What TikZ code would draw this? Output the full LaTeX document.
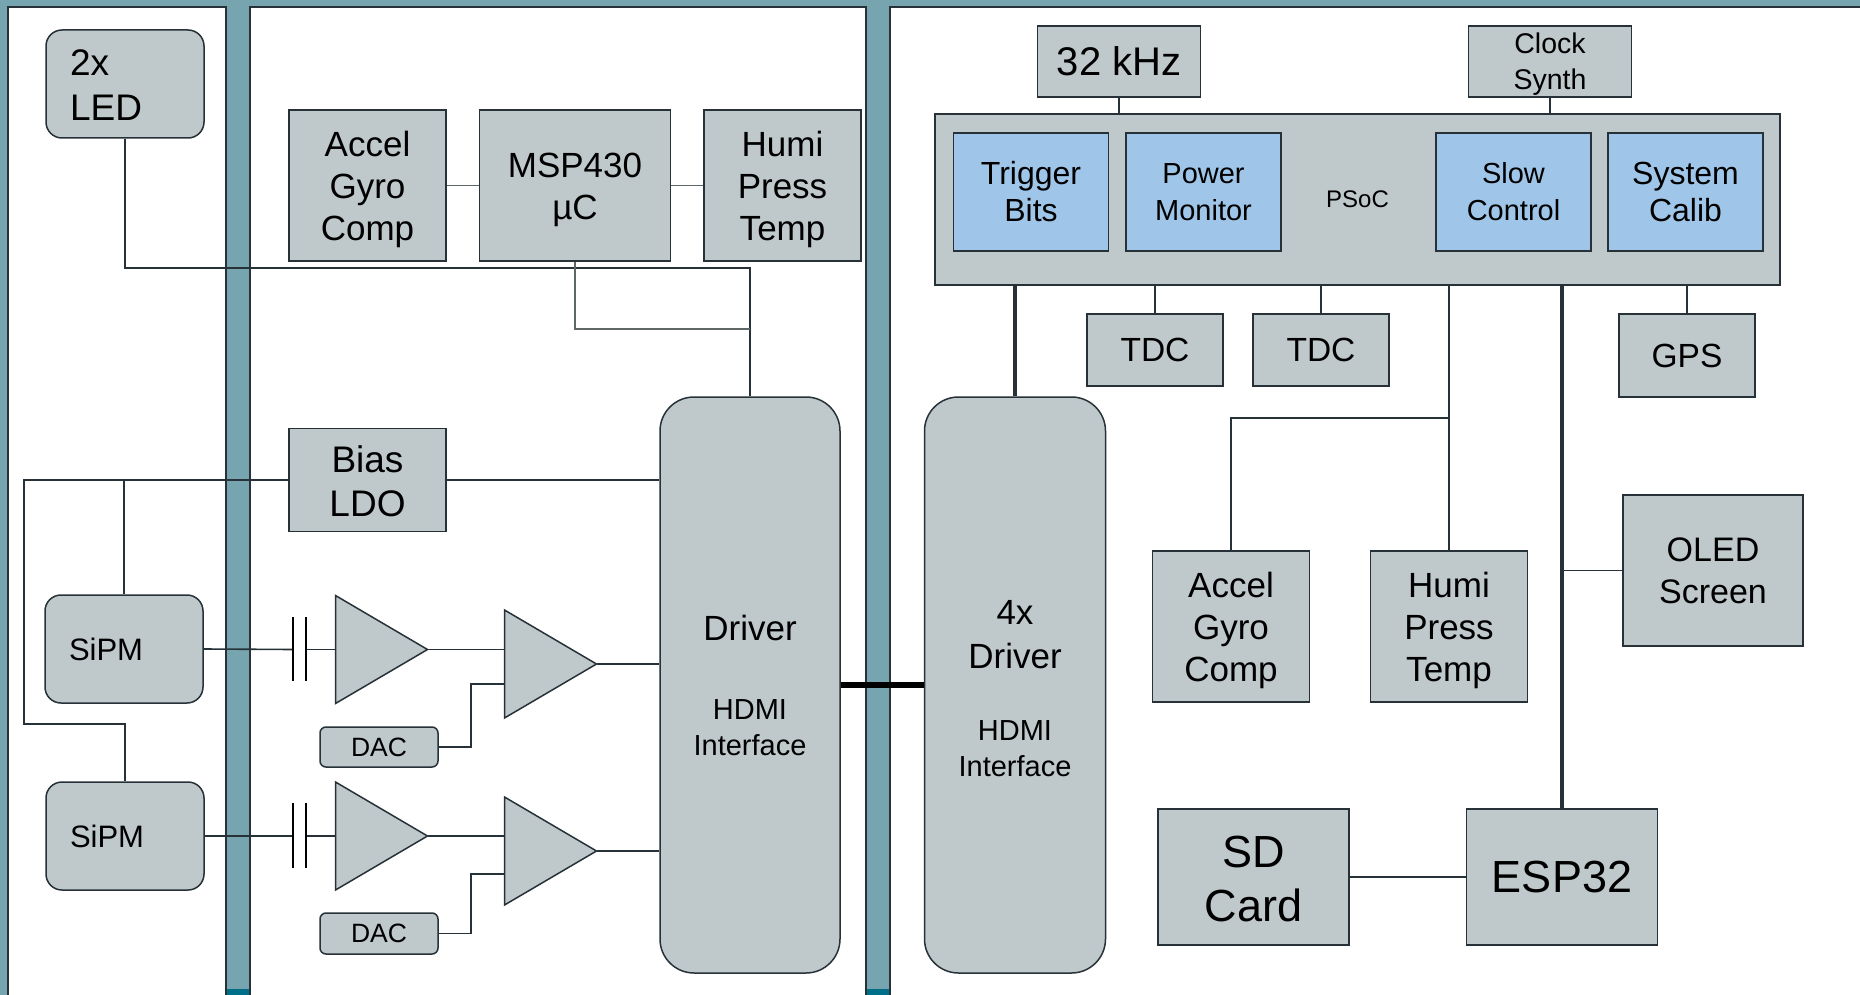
\documentclass[tikz,border=0pt]{standalone}
\usepackage{fontspec}
\setmainfont{Liberation Sans}
\usetikzlibrary{shapes.geometric}

\definecolor{panelteal}{HTML}{76A5AF}
\definecolor{stripteal}{HTML}{00708A}
\definecolor{edgedark}{HTML}{263238}
\definecolor{boxgray}{HTML}{BFC8CB}
\definecolor{boxblue}{HTML}{9FC5E8}
\definecolor{wiregray}{HTML}{5F6666}

\newcommand{\sz}[2]{\fontsize{#1}{#2}\selectfont}
\newcommand{\dn}[1]{\rule{0pt}{#1pt}}

\tikzset{
    block/.style = {draw = edgedark, fill = boxgray, line width = 1.5pt, align = center,
        inner sep = 0pt, text = black},
    roundblock/.style = {block, rounded corners = 16pt},
    sideblock/.style = {roundblock, align = left, inner xsep = 24pt, text width = 110pt},
    interblock/.style = {block, rounded corners = 34pt, font = \sz{29}{36}},
    bluebox/.style = {block, fill = boxblue},
    amp/.style = {draw = edgedark, fill = boxgray, line width = 1.5pt, isosceles triangle,
        isosceles triangle apex angle = 61, isosceles triangle stretches,
        minimum width = 108pt, minimum height = 92pt, inner sep = 0pt, outer sep = 0pt, anchor = apex},
    wire/.style = {draw = edgedark, line width = 1.6pt},
    softwire/.style = {draw = wiregray, line width = 1.5pt},
    plate/.style = {draw = black, line width = 1.4pt},
    bus/.style = {draw = edgedark, line width = 3.8pt},
    panel/.style = {draw = edgedark, fill = white, line width = 1.5pt}
}

\begin{document}
\begin{tikzpicture}[%
        x = 1pt,
        y = -1pt
    ]

        \useasboundingbox (0, 0) rectangle (1860, 995);

        % Backdrop and the three white panels.
        \fill[panelteal] (0, 0) rectangle (1860, 995);
        \fill[stripteal] (226, 989) rectangle (250, 995);
        \fill[stripteal] (866, 989) rectangle (890, 995);
        \draw[panel] (8, 7) rectangle (226, 1010);
        \draw[panel] (250, 7) rectangle (866, 1010);
        \draw[panel] (890, 7) rectangle (1880, 1010);

        % Left panel.
        \node[sideblock, minimum width = 158, minimum height = 108, font = \sz{37}{45}] (led) at (125, 84) {\dn{29}2x\\LED};
        \node[sideblock, minimum width = 158, minimum height = 108, font = \sz{31}{37}] (sipmA) at (124, 649) {SiPM};
        \node[sideblock, minimum width = 158, minimum height = 108, font = \sz{31}{37}] (sipmB) at (125, 836) {SiPM};

        % Middle panel.
        \node[block, minimum width = 157, minimum height = 151, font = \sz{35}{42}] (accelL) at (367.5, 185.5) {\dn{33}Accel\\Gyro\\Comp};
        \node[block, minimum width = 191, minimum height = 151, font = \sz{35}{42}] (msp) at (575, 185.5) {\dn{34}MSP430\\µC};
        \node[block, minimum width = 157, minimum height = 151, font = \sz{35}{42}] (humiL) at (782.5, 185.5) {\dn{33}Humi\\Press\\Temp};
        \node[block, minimum width = 157, minimum height = 103, font = \sz{37}{44}] (bias) at (367.5, 480) {\dn{29}Bias\\LDO};
        \node[interblock, minimum width = 180, minimum height = 576] (driver) at (750, 685)
            {{\sz{35}{42}Driver}\\[43pt]HDMI\\Interface};

        % Amplifier chains.
        \node[amp] (ampA) at (427.5, 649.5) {};
        \node[amp] (ampB) at (596.5, 664) {};
        \node[amp] (ampC) at (427.5, 836) {};
        \node[amp] (ampD) at (596.5, 851) {};
        \node[block, rounded corners = 6pt, minimum width = 118, minimum height = 40, font = \sz{26.5}{32}] (dacA) at (379, 747) {DAC};
        \node[block, rounded corners = 6pt, minimum width = 118, minimum height = 41, font = \sz{26.5}{32}] (dacB) at (379, 933.5) {DAC};

        % Right panel.
        \node[block, minimum width = 163, minimum height = 71, font = \sz{40}{48}] (khz) at (1119, 61.5) {32 kHz};
        \node[block, minimum width = 163, minimum height = 71, font = \sz{28.5}{36}] (clock) at (1550, 61.5) {\dn{25}Clock\\Synth};
        \node[block, minimum width = 845, minimum height = 171, font = \sz{24}{28}] (psoc) at (1357.5, 199.5) {PSoC};
        \node[bluebox, minimum width = 155, minimum height = 118, font = \sz{32}{37}] (trigger) at (1031, 192) {Trigger\\Bits};
        \node[bluebox, minimum width = 155, minimum height = 118, font = \sz{29}{37}] (power) at (1203.5, 192) {Power\\Monitor};
        \node[bluebox, minimum width = 155, minimum height = 118, font = \sz{29}{37}] (slow) at (1513.5, 192) {Slow\\Control};
        \node[bluebox, minimum width = 155, minimum height = 118, font = \sz{32}{37}] (calib) at (1685.5, 192) {System\\Calib};
        \node[block, minimum width = 136, minimum height = 72, font = \sz{33.5}{40}] (tdcA) at (1155, 350) {TDC};
        \node[block, minimum width = 136, minimum height = 72, font = \sz{33.5}{40}] (tdcB) at (1321, 350) {TDC};
        \node[block, minimum width = 136, minimum height = 83, font = \sz{33.5}{40}] (gps) at (1687, 355.5) {GPS};
        \node[block, minimum width = 180, minimum height = 151, font = \sz{34}{42}] (oled) at (1713, 570.5) {OLED\\Screen};
        \node[block, minimum width = 157, minimum height = 151, font = \sz{35}{42}] (accelR) at (1231, 626.5) {\dn{33}Accel\\Gyro\\Comp};
        \node[block, minimum width = 157, minimum height = 151, font = \sz{35}{42}] (humiR) at (1449, 626.5) {\dn{33}Humi\\Press\\Temp};
        \node[block, minimum width = 191, minimum height = 136, font = \sz{45}{54}] (sd) at (1253.5, 877) {\dn{35}SD\\Card};
        \node[block, minimum width = 191, minimum height = 136, font = \sz{45}{54}] (esp) at (1562, 877) {ESP32};
        \node[interblock, minimum width = 181, minimum height = 576] (driverB) at (1015, 685)
            {{\sz{35}{42}\dn{32}4x}\\[8pt]{\sz{35}{42}Driver}\\[36pt]HDMI\\Interface};

        % Bend points of the wires.
        \coordinate (ledTap) at (750, 268);
        \coordinate (mspTap) at (750, 329);
        \coordinate (busTop) at (24, 480);
        \coordinate (busBot) at (24, 724);
        \coordinate (capA) at (293, 649.5);
        \coordinate (capB) at (306, 649.5);
        \coordinate (capC) at (293, 836);
        \coordinate (capD) at (306, 836);
        \coordinate (inA) at (505, 684);
        \coordinate (inB) at (505, 874);
        \coordinate (benchTap) at (1449, 418);

        % Wires of the left and middle panels.
        \draw[wire] (led.south) |- (ledTap) -- (driver.north);
        \draw[softwire] (msp.south) |- (mspTap);
        \draw[softwire] (accelL) -- (msp);
        \draw[softwire] (msp) -- (humiL);
        \draw[wire] (bias.east) -- (bias.east -| driver.west);
        \draw[wire] (sipmA.north) |- (bias.west);
        \draw[wire] (bias.west) -- (busTop) -- (busBot) -| (sipmB.north);

        % The two signal chains, capacitor plates included.
        \draw[wire] (sipmA.east) -- (capA);
        \draw[wire] (capB) -- (capB -| ampA.lower side);
        \draw[plate] (293, 617) -- (293, 681);
        \draw[plate] (306, 617) -- (306, 681);
        \draw[wire] (ampA.apex) -- (ampA.apex -| ampB.lower side);
        \draw[wire] (ampB.apex) -- (ampB.apex -| driver.west);
        \draw[wire] (dacA.east) -- (471, 747) |- (inA);
        \draw[wire] (sipmB.east) -- (capC);
        \draw[wire] (capD) -- (capD -| ampC.lower side);
        \draw[plate] (293, 803) -- (293, 868);
        \draw[plate] (306, 803) -- (306, 868);
        \draw[wire] (ampC.apex) -- (ampC.apex -| ampD.lower side);
        \draw[wire] (ampD.apex) -- (ampD.apex -| driver.west);
        \draw[wire] (dacB.east) -- (471, 933.5) |- (inB);

        % Link between the drivers.
        \draw[line width = 5.5pt, black] (driver.east) -- (driverB.west);

        % Wires of the right panel.
        \draw[wire] (khz.south) -- (khz.south |- psoc.north);
        \draw[wire] (clock.south) -- (clock.south |- psoc.north);
        \draw[wire] (tdcA.north) -- (tdcA.north |- psoc.south);
        \draw[wire] (tdcB.north) -- (tdcB.north |- psoc.south);
        \draw[wire] (gps.north) -- (gps.north |- psoc.south);
        \draw[wire] (humiR.north) -- (humiR.north |- psoc.south);
        \draw[wire] (accelR.north) |- (benchTap);
        \draw[bus] (driverB.north) -- (driverB.north |- psoc.south);
        \draw[bus] (esp.north) -- (esp.north |- psoc.south);
        \draw[wire] (oled.west) -- (oled.west -| esp.north);
        \draw[wire] (sd) -- (esp);
    \end{tikzpicture}
\end{document}
